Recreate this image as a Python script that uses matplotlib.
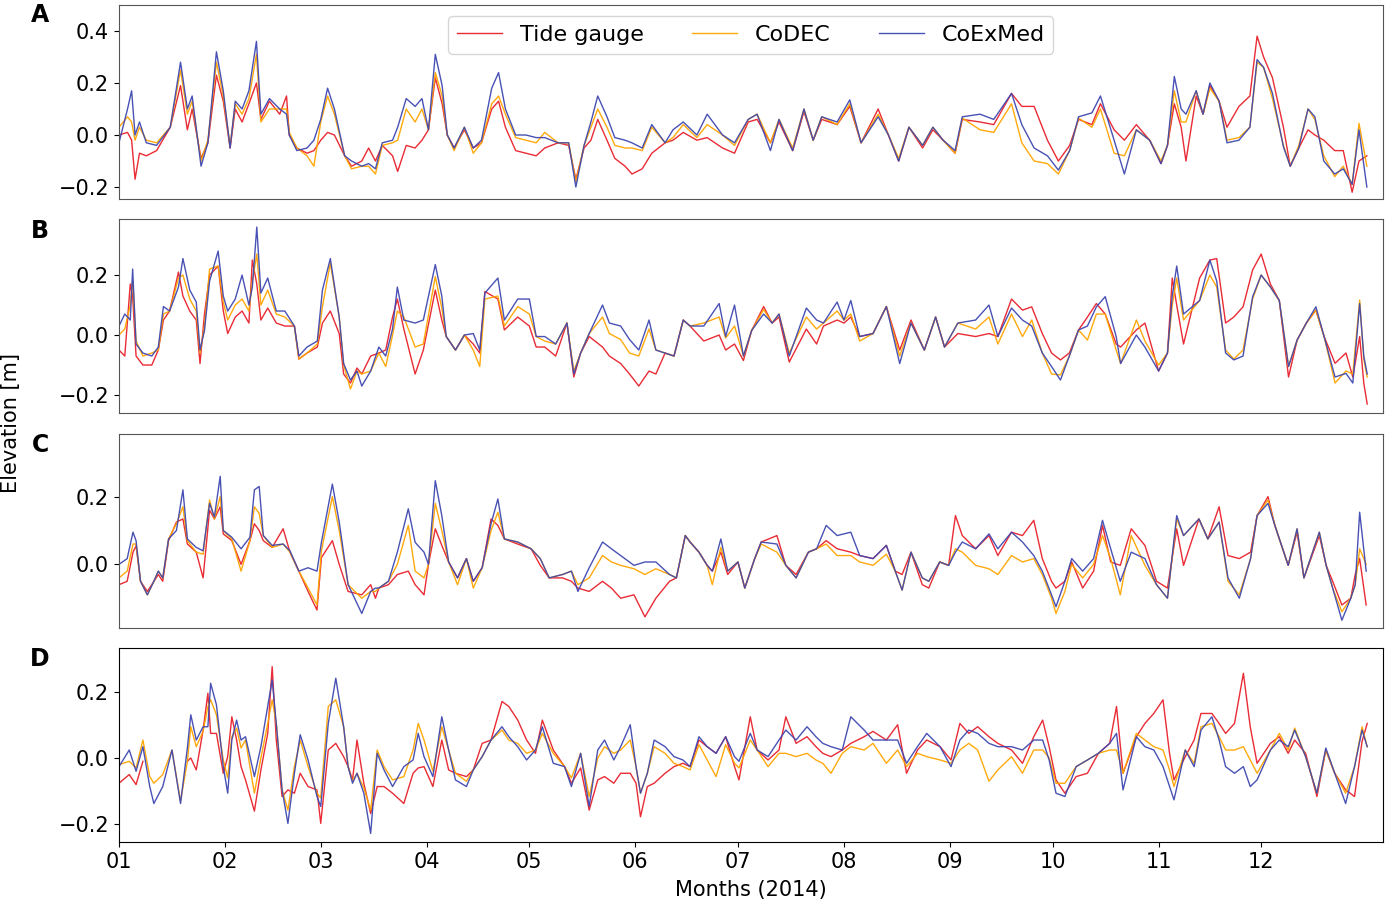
import numpy as np
import pandas as pd
import matplotlib
matplotlib.use("Agg")
import matplotlib.pyplot as plt
import matplotlib.dates as mdates
from matplotlib.ticker import MultipleLocator, FixedLocator

# ---- Panel A: day of 2014, sea level (m) ----
a_days = [0, 2.5, 3.7, 4.7, 6, 8, 11, 15, 18, 20,
          21.4, 24, 26, 28.5, 30.5, 32.5, 34, 36, 38, 40.2,
          41.5, 44, 47, 49, 49.8, 52, 55, 57, 59, 61,
          63, 66, 68, 71, 73, 75, 77, 80, 81.5, 84,
          86.6, 88.6, 90.5, 92.5, 94.5, 96, 98, 101, 103.6, 106,
          109, 111, 113, 116, 119, 122, 124.5, 128.4, 131.5, 133.6,
          136, 138, 140, 142.7, 145, 148, 150, 153, 155.8, 159.7,
          162, 165, 169, 172, 176.5, 180, 184, 186.6, 190.5, 193,
          197, 200.3, 203, 205.5, 210, 213.7, 217, 222, 225, 228,
          231, 235, 238, 241, 244.5, 246.6, 251.8, 255.8, 261, 264,
          267.6, 271.5, 274.7, 278, 280.6, 284.5, 287, 291, 294, 297.5,
          301.4, 304.7, 306.6, 308.6, 310.6, 312, 315, 317, 319, 321.7,
          324, 327.5, 330.7, 332.8, 334.7, 337.3, 340.5, 342.5, 345, 347.7,
          349.7, 352.3, 355.5, 358, 360.6, 362.6, 364.9]
a_tide = [0.00, 0.01, -0.02, -0.17, -0.07, -0.08, -0.06, 0.03, 0.19, 0.02,
          0.10, -0.09, -0.03, 0.23, 0.13, -0.05, 0.10, 0.05, 0.12, 0.20,
          0.06, 0.13, 0.08, 0.15, 0.00, -0.05, -0.07, -0.06, -0.02, 0.01,
          0.00, -0.08, -0.12, -0.10, -0.05, -0.10, -0.04, -0.08, -0.14, -0.04,
          -0.05, -0.02, 0.02, 0.22, 0.12, 0.00, -0.05, 0.02, -0.05, -0.03,
          0.10, 0.13, 0.03, -0.06, -0.07, -0.08, -0.05, -0.03, -0.04, -0.17,
          -0.05, -0.02, 0.06, -0.02, -0.09, -0.12, -0.15, -0.13, -0.07, -0.03,
          -0.02, 0.01, -0.02, -0.01, -0.05, -0.07, 0.05, 0.06, -0.03, 0.05,
          -0.06, 0.09, -0.02, 0.06, 0.04, 0.11, -0.03, 0.10, 0.00, -0.10,
          0.03, -0.05, 0.02, -0.02, -0.07, 0.06, 0.05, 0.04, 0.16, 0.11,
          0.11, -0.02, -0.10, -0.04, 0.06, 0.04, 0.12, 0.02, -0.02, 0.04,
          -0.02, -0.11, -0.04, 0.12, 0.03, -0.10, 0.15, 0.08, 0.19, 0.13,
          0.03, 0.11, 0.15, 0.38, 0.30, 0.22, 0.03, -0.12, -0.05, 0.02,
          0.00, -0.02, -0.06, -0.06, -0.22, -0.10, -0.08]
a_codec = [0.03, 0.07, 0.05, -0.02, 0.03, -0.02, -0.03, 0.03, 0.25, 0.08,
           0.13, -0.10, -0.02, 0.28, 0.15, -0.04, 0.12, 0.08, 0.14, 0.31,
           0.05, 0.10, 0.10, 0.10, 0.01, -0.05, -0.08, -0.12, 0.05, 0.15,
           0.08, -0.08, -0.13, -0.12, -0.12, -0.15, -0.04, -0.03, -0.02, 0.10,
           0.05, 0.10, 0.02, 0.24, 0.15, 0.00, -0.06, 0.03, -0.07, -0.03,
           0.12, 0.15, 0.08, -0.01, -0.02, -0.03, 0.01, -0.03, -0.03, -0.18,
           -0.04, 0.03, 0.10, 0.03, -0.04, -0.05, -0.05, -0.06, 0.03, -0.03,
           -0.01, 0.04, -0.01, 0.04, 0.00, -0.04, 0.06, 0.08, -0.03, 0.06,
           -0.05, 0.10, -0.02, 0.07, 0.04, 0.12, -0.03, 0.08, 0.00, -0.09,
           0.03, -0.04, 0.03, -0.02, -0.07, 0.065, 0.02, 0.01, 0.12, -0.03,
           -0.10, -0.11, -0.15, -0.06, 0.065, 0.03, 0.10, -0.07, -0.08, 0.02,
           -0.02, -0.10, -0.04, 0.17, 0.05, 0.05, 0.17, 0.08, 0.18, 0.13,
           -0.02, -0.01, 0.03, 0.28, 0.26, 0.14, -0.04, -0.12, -0.04, 0.10,
           0.06, -0.08, -0.16, -0.12, -0.19, 0.045, -0.12]
a_coexmed = [-0.03, 0.10, 0.17, 0.00, 0.05, -0.03, -0.04, 0.03, 0.28, 0.10,
             0.15, -0.12, -0.03, 0.32, 0.17, -0.05, 0.13, 0.10, 0.17, 0.36,
             0.08, 0.14, 0.10, 0.08, 0.00, -0.06, -0.05, -0.02, 0.06, 0.18,
             0.10, -0.08, -0.10, -0.12, -0.11, -0.13, -0.03, -0.02, 0.03, 0.14,
             0.11, 0.14, 0.02, 0.31, 0.19, 0.00, -0.05, 0.03, -0.05, -0.02,
             0.18, 0.24, 0.10, 0.00, 0.00, -0.01, -0.01, -0.03, -0.03, -0.20,
             -0.04, 0.05, 0.15, 0.07, -0.01, -0.02, -0.03, -0.05, 0.04, -0.03,
             0.02, 0.05, 0.00, 0.08, 0.00, -0.03, 0.06, 0.08, -0.06, 0.06,
             -0.06, 0.10, -0.02, 0.07, 0.05, 0.135, -0.03, 0.07, 0.00, -0.10,
             0.03, -0.04, 0.03, -0.02, -0.06, 0.07, 0.08, 0.06, 0.16, 0.04,
             -0.05, -0.08, -0.135, -0.06, 0.07, 0.085, 0.15, -0.02, -0.15, 0.02,
             -0.02, -0.11, -0.04, 0.225, 0.10, 0.08, 0.17, 0.08, 0.20, 0.13,
             -0.03, -0.02, 0.03, 0.29, 0.26, 0.16, -0.045, -0.12, -0.05, 0.10,
             0.07, -0.10, -0.15, -0.13, -0.19, 0.02, -0.20]

# ---- Panel B ----
b_days = [0, 1.7, 3.3, 4, 5, 7, 9.6, 11.5, 13, 14.8,
          17.4, 18.7, 20.7, 22.6, 23.7, 25, 26.5, 29, 30.5, 31.8,
          34, 36, 38, 39, 40.3, 41.5, 43.5, 46, 48.5, 51.3,
          52.6, 55, 58, 59.5, 61.8, 64.4, 65.7, 67.7, 69.6, 71,
          73.6, 76, 78, 80, 81.4, 83.3, 86.6, 89, 92.5, 94.4,
          95.7, 98.4, 101, 103.6, 105.5, 107, 110.8, 112.7, 116.6, 120,
          122, 124.5, 127.7, 131, 133, 135, 137.5, 141.4, 143.4, 146.7,
          149.3, 152, 155, 157, 159.7, 162.3, 165, 167, 171, 175.5,
          177.4, 180, 182.6, 185, 188.5, 191, 193, 196, 201, 204,
          206, 210, 212, 214, 216.6, 220.5, 224.4, 228.3, 231.6, 235.5,
          238.8, 241.4, 245.3, 250.5, 254.4, 257, 261, 264.2, 266.9, 270,
          272.7, 275.3, 277.9, 280.6, 283.2, 285.8, 288.4, 291.6, 292.9, 297.5,
          300, 304, 306.6, 308, 309.3, 311.3, 316, 319, 321, 323.6,
          326, 328.7, 331.5, 334, 336.7, 339.3, 342, 344.5, 347.2, 350,
          352.4, 355.6, 358.8, 360.8, 362.8, 364, 365]
b_tide = [-0.05, -0.07, 0.17, 0.13, -0.07, -0.10, -0.10, -0.05, 0.05, 0.08,
          0.21, 0.13, 0.08, 0.05, -0.095, 0.07, 0.20, 0.23, 0.08, 0.005,
          0.06, 0.08, 0.04, 0.25, 0.17, 0.05, 0.09, 0.04, 0.03, 0.03,
          -0.08, -0.06, -0.04, 0.04, 0.08, 0.005, -0.13, -0.16, -0.11, -0.13,
          -0.07, -0.06, -0.05, 0.06, 0.12, 0.02, -0.13, -0.05, 0.15, 0.05,
          -0.005, -0.05, 0.00, -0.03, -0.06, 0.145, 0.12, 0.017, 0.06, 0.03,
          -0.04, -0.04, -0.07, 0.04, -0.14, -0.06, -0.005, -0.04, -0.07, -0.095,
          -0.13, -0.17, -0.12, -0.13, -0.06, -0.07, 0.05, 0.03, -0.02, 0.00,
          -0.05, -0.03, -0.085, 0.015, 0.095, 0.04, 0.06, -0.09, 0.02, -0.03,
          0.03, 0.05, 0.04, 0.06, -0.005, 0.005, 0.095, -0.05, 0.05, -0.05,
          0.06, -0.04, 0.005, -0.005, 0.005, -0.005, 0.12, 0.083, 0.094, 0.005,
          -0.06, -0.083, -0.06, 0.017, 0.06, 0.105, 0.07, -0.03, -0.04, 0.017,
          0.04, -0.12, -0.06, 0.19, 0.10, -0.03, 0.19, 0.25, 0.255, 0.04,
          0.06, 0.094, 0.217, 0.27, 0.17, 0.115, -0.14, -0.017, 0.04, 0.083,
          -0.005, -0.094, -0.06, -0.14, -0.005, -0.16, -0.23]
b_codec = [0.00, 0.02, 0.10, 0.18, -0.02, -0.07, -0.06, -0.05, 0.07, 0.08,
           0.19, 0.20, 0.12, 0.08, -0.06, 0.03, 0.22, 0.23, 0.11, 0.05,
           0.10, 0.12, 0.08, 0.18, 0.27, 0.10, 0.15, 0.07, 0.06, 0.03,
           -0.08, -0.06, -0.03, 0.095, 0.24, 0.06, -0.10, -0.18, -0.12, -0.13,
           -0.12, -0.06, -0.105, 0.00, 0.08, 0.06, -0.04, -0.03, 0.195, 0.09,
           -0.005, -0.05, 0.00, -0.05, -0.105, 0.12, 0.13, 0.03, 0.095, 0.07,
           -0.005, -0.02, -0.03, 0.04, -0.12, -0.06, 0.005, 0.06, 0.005, -0.015,
           -0.06, -0.07, 0.02, -0.05, -0.06, -0.07, 0.05, 0.03, 0.04, 0.06,
           -0.01, 0.03, -0.07, 0.015, 0.085, 0.04, 0.07, -0.06, 0.06, 0.02,
           0.04, 0.08, 0.05, 0.07, -0.02, 0.005, 0.095, -0.07, 0.04, -0.05,
           0.06, -0.04, 0.04, 0.02, 0.06, -0.03, 0.07, -0.005, 0.05, -0.06,
           -0.13, -0.133, -0.07, 0.017, -0.017, 0.07, 0.07, -0.05, -0.095, 0.05,
           -0.02, -0.10, -0.06, 0.10, 0.19, 0.05, 0.115, 0.20, 0.16, -0.05,
           -0.08, -0.05, 0.12, 0.20, 0.16, 0.115, -0.105, -0.017, 0.04, 0.083,
           -0.005, -0.16, -0.12, -0.13, 0.117, -0.08, -0.14]
b_coexmed = [0.03, 0.07, 0.05, 0.22, -0.03, -0.06, -0.07, -0.04, 0.095, 0.08,
             0.16, 0.255, 0.15, 0.11, -0.05, 0.015, 0.18, 0.28, 0.13, 0.08,
             0.12, 0.20, 0.10, 0.16, 0.36, 0.14, 0.19, 0.08, 0.08, 0.03,
             -0.07, -0.04, -0.02, 0.15, 0.255, 0.06, -0.095, -0.15, -0.12, -0.17,
             -0.12, -0.04, -0.07, 0.02, 0.16, 0.05, 0.04, 0.05, 0.235, 0.13,
             -0.005, -0.05, 0.00, 0.005, -0.05, 0.14, 0.19, 0.05, 0.12, 0.12,
             -0.005, -0.005, -0.03, 0.04, -0.13, -0.06, 0.005, 0.10, 0.04, 0.03,
             -0.015, -0.05, 0.05, -0.05, -0.06, -0.07, 0.05, 0.03, 0.03, 0.105,
             -0.005, 0.10, -0.07, 0.015, 0.07, 0.04, 0.07, -0.07, 0.09, 0.05,
             0.04, 0.11, 0.05, 0.115, -0.005, 0.005, 0.095, -0.095, 0.04, -0.05,
             0.06, -0.04, 0.04, 0.05, 0.10, -0.005, 0.09, 0.05, 0.03, -0.06,
             -0.105, -0.15, -0.07, 0.017, 0.03, 0.094, 0.128, -0.005, -0.095, 0.00,
             -0.04, -0.12, -0.06, 0.13, 0.23, 0.07, 0.115, 0.25, 0.18, -0.06,
             -0.083, -0.07, 0.128, 0.20, 0.16, 0.115, -0.105, -0.017, 0.04, 0.094,
             -0.005, -0.14, -0.128, -0.16, 0.105, -0.07, -0.13]

# ---- Panel C ----
c_days = [0, 2.4, 4.1, 5, 6.3, 8.3, 10.2, 11.5, 12.8, 14.5,
          16.8, 18.7, 20, 22.6, 24.6, 26.5, 27.9, 29.6, 30.5, 33,
          35.7, 38.3, 39.6, 41, 42.2, 44.8, 48, 50, 52.6, 55.3,
          57.9, 59.2, 62.4, 64.4, 67, 71, 73.6, 75, 76, 78.8,
          81.4, 84.6, 86.6, 89.2, 90.5, 92.5, 94.4, 96.4, 99, 101.6,
          103.6, 106.2, 108.8, 110.8, 112.7, 116.6, 120.5, 123.2, 125.8, 129.7,
          132.3, 134.2, 137.5, 141.4, 144, 146.7, 150.6, 153.8, 157, 161,
          163, 165.6, 167, 169.6, 172, 173.5, 176, 178, 181, 183,
          185.9, 187.8, 192.4, 195, 198, 201.6, 204, 206.8, 210, 214,
          216.6, 220.5, 224.4, 227, 229, 231.6, 234.9, 236.8, 240, 242.6,
          244.6, 246.6, 250.5, 254.4, 257, 261, 264.2, 267.5, 270, 272.7,
          274, 276.6, 278.6, 281.8, 285, 287.6, 290, 292.8, 296, 300,
          303.4, 306.6, 309.3, 311.3, 315.8, 318.4, 321.7, 324.3, 327.6, 330.9,
          332.8, 336, 338, 340.6, 341.9, 344.5, 346.5, 351, 353, 354.9,
          357.6, 360.2, 361.5, 362.8, 364.7]
c_tide = [-0.06, -0.05, 0.036, 0.055, -0.05, -0.08, -0.05, -0.03, -0.05, 0.07,
          0.125, 0.134, 0.06, 0.036, -0.04, 0.16, 0.134, 0.17, 0.09, 0.07,
          0.0, 0.07, 0.12, 0.10, 0.07, 0.05, 0.105, 0.036, -0.02, -0.08,
          -0.135, 0.02, 0.07, 0.0, -0.08, -0.09, -0.06, -0.10, -0.07, -0.06,
          -0.03, -0.02, -0.06, -0.09, 0.0, 0.105, 0.056, 0.007, -0.04, 0.017,
          -0.05, -0.01, 0.134, 0.115, 0.075, 0.06, 0.046, -0.003, -0.04, -0.04,
          -0.05, -0.07, -0.08, -0.05, -0.07, -0.10, -0.09, -0.155, -0.10, -0.05,
          -0.04, 0.085, 0.066, 0.036, -0.003, -0.02, 0.036, -0.03, 0.007, -0.07,
          0.017, 0.066, 0.085, -0.003, -0.03, 0.036, 0.046, 0.07, 0.046, 0.036,
          0.026, 0.017, 0.056, -0.02, -0.03, 0.036, -0.06, -0.07, 0.007, -0.003,
          0.144, 0.085, 0.046, 0.085, 0.026, 0.095, 0.085, 0.13, 0.017, -0.05,
          -0.07, -0.05, 0.007, -0.07, -0.02, 0.115, 0.007, -0.003, 0.105, 0.056,
          -0.05, -0.07, 0.105, -0.003, 0.134, 0.075, 0.17, 0.026, 0.017, 0.036,
          0.144, 0.20, 0.115, 0.036, -0.003, 0.095, -0.04, 0.085, -0.003, -0.05,
          -0.12, -0.10, -0.03, 0.017, -0.12]
c_codec = [-0.04, -0.02, 0.06, 0.06, -0.05, -0.09, -0.05, -0.02, -0.04, 0.075,
           0.12, 0.17, 0.07, 0.036, 0.03, 0.19, 0.134, 0.20, 0.10, 0.075,
           -0.02, 0.07, 0.17, 0.15, 0.085, 0.05, 0.06, 0.036, -0.02, -0.07,
           -0.12, 0.04, 0.20, 0.10, -0.06, -0.10, -0.08, -0.08, -0.07, -0.05,
           0.0, 0.115, -0.02, -0.04, 0.0, 0.18, 0.10, 0.007, -0.06, 0.017,
           -0.07, -0.01, 0.10, 0.154, 0.075, 0.066, 0.046, 0.017, -0.04, -0.03,
           -0.02, -0.06, -0.04, 0.026, 0.007, -0.003, -0.013, -0.03, -0.013, -0.03,
           -0.04, 0.085, 0.066, 0.036, -0.003, -0.06, 0.05, -0.02, 0.007, -0.07,
           0.017, 0.06, 0.036, -0.003, -0.04, 0.036, 0.046, 0.06, 0.026, 0.026,
           0.007, -0.003, 0.03, -0.02, -0.076, 0.036, -0.04, -0.05, 0.007, -0.003,
           0.046, 0.036, -0.003, -0.013, -0.03, 0.026, 0.007, 0.017, -0.03, -0.10,
           -0.145, -0.08, 0.0, -0.04, 0.0, 0.085, 0.017, -0.09, 0.085, -0.003,
           -0.06, -0.10, 0.134, 0.085, 0.134, 0.075, 0.125, -0.05, -0.09, 0.017,
           0.144, 0.19, 0.115, 0.036, -0.003, 0.105, -0.04, 0.095, -0.003, -0.07,
           -0.14, -0.10, -0.06, 0.046, 0.0]
c_coexmed = [0.00, 0.017, 0.095, 0.07, -0.05, -0.09, -0.05, -0.02, -0.04, 0.075,
             0.10, 0.22, 0.075, 0.05, 0.04, 0.18, 0.14, 0.26, 0.10, 0.08,
             0.046, 0.08, 0.22, 0.23, 0.085, 0.056, 0.06, 0.04, -0.02, -0.01,
             -0.02, 0.065, 0.237, 0.125, -0.06, -0.145, -0.08, -0.07, -0.07, -0.05,
             0.036, 0.164, 0.065, 0.036, 0.0, 0.247, 0.144, 0.007, -0.04, 0.017,
             -0.05, -0.01, 0.12, 0.193, 0.075, 0.066, 0.046, 0.017, -0.04, -0.03,
             -0.02, -0.08, -0.01, 0.066, 0.046, 0.026, -0.003, 0.007, 0.007, -0.03,
             -0.04, 0.085, 0.066, 0.036, -0.003, -0.02, 0.075, -0.02, 0.007, -0.07,
             0.017, 0.066, 0.06, -0.003, -0.04, 0.036, 0.046, 0.115, 0.085, 0.095,
             0.026, 0.017, 0.056, -0.02, -0.076, 0.036, -0.04, -0.05, 0.007, -0.003,
             0.036, 0.066, 0.046, 0.09, 0.046, 0.095, 0.066, 0.026, -0.02, -0.09,
             -0.125, -0.05, 0.017, -0.02, 0.017, 0.13, 0.046, -0.05, 0.036, 0.017,
             -0.06, -0.10, 0.144, 0.085, 0.134, 0.075, 0.125, -0.04, -0.10, 0.017,
             0.144, 0.18, 0.115, 0.036, -0.003, 0.105, -0.04, 0.095, -0.003, -0.07,
             -0.165, -0.10, -0.06, 0.154, -0.02]

# ---- Panel D (tide gauge has a gap in mid January) ----
nan = np.nan
d_days = [0, 3, 5, 7, 9, 10.2, 12.8, 15.5, 18, 20,
          21, 22.6, 24.6, 26, 26.8, 28.5, 30.5, 31.8, 33, 34.4,
          35.7, 37, 39.6, 41.5, 43.5, 44.8, 46, 47.7, 49.4, 51.3,
          53, 55.3, 57.9, 59, 61.2, 63.4, 65.7, 67, 68.3, 69.6,
          71.6, 73.6, 75.5, 77.5, 80, 83.3, 86, 87.5, 89.2, 91.8,
          94.4, 96.4, 98.4, 101.6, 103.6, 106.2, 108.8, 112, 114, 116.6,
          119.2, 121.8, 123.8, 127, 130.3, 132.3, 135, 137.5, 140, 142,
          144.7, 146.7, 149.5, 151.2, 152.5, 154.5, 156.5, 159.7, 162.3, 164.9,
          167, 169.6, 172, 174.6, 177.4, 180, 181.3, 184.6, 186.6, 189.8,
          193, 195, 198, 201.2, 203.8, 205.8, 208.2, 211.5, 214, 217.9,
          220.5, 224.4, 227.7, 230.3, 233.5, 236.2, 240.1, 243.3, 245.9, 248.5,
          251.1, 254.4, 257, 261, 264.2, 267.5, 270.1, 272, 274, 276.6,
          279.9, 283.2, 286.4, 289.7, 291.7, 293.6, 297.5, 300, 302.6, 305.3,
          307.2, 308.5, 311.8, 314.4, 316.4, 319.6, 321.7, 323.6, 326.2, 328.8,
          330.8, 332.8, 336.7, 339.3, 341.9, 343.8, 347, 350.3, 352.9, 355.5,
          358.7, 361.3, 363.5, 365]
d_tide = [-0.076, -0.05, -0.08, -0.01, nan, nan, nan, nan, nan, -0.01,
          0.0, -0.036, 0.084, 0.195, 0.074, 0.074, -0.046, 0.004, 0.124, 0.054,
          -0.026, -0.066, -0.16, -0.036, 0.074, 0.275, 0.054, -0.116, -0.096, -0.106,
          -0.046, -0.086, -0.096, -0.197, 0.024, 0.044, 0.004, -0.026, -0.066, 0.054,
          -0.076, -0.167, -0.086, -0.086, -0.106, -0.137, -0.046, -0.03, -0.026, -0.086,
          0.054, -0.036, -0.046, -0.056, -0.036, 0.044, 0.054, 0.17, 0.155, 0.114,
          0.054, 0.014, 0.114, 0.024, -0.026, -0.076, -0.03, -0.157, -0.066, -0.056,
          -0.076, -0.046, -0.046, -0.076, -0.177, -0.086, -0.076, -0.046, -0.026, -0.016,
          -0.026, 0.054, 0.034, 0.014, 0.064, -0.026, -0.066, 0.124, 0.024, -0.006,
          0.024, 0.124, 0.044, 0.064, 0.034, 0.014, 0.004, 0.024, 0.044, 0.064,
          0.08, 0.054, 0.1, -0.046, 0.024, 0.054, 0.034, -0.006, 0.104, 0.074,
          0.094, 0.064, 0.044, 0.024, -0.016, 0.064, 0.114, 0.034, -0.066, -0.106,
          -0.056, -0.046, 0.014, 0.044, 0.155, -0.046, 0.064, 0.104, 0.134, 0.175,
          0.014, -0.066, 0.004, 0.054, 0.134, 0.134, 0.104, 0.074, 0.104, 0.255,
          0.094, -0.016, 0.044, 0.064, 0.014, 0.054, 0.014, -0.116, 0.024, -0.046,
          -0.096, -0.116, 0.05, 0.104]
d_codec = [-0.02, -0.01, -0.03, 0.054, -0.056, -0.076, -0.05, 0.024, -0.13, -0.01,
           0.094, 0.034, 0.08, 0.155, 0.175, 0.13, -0.006, -0.06, 0.064, 0.09,
           0.03, 0.054, -0.106, 0.0, 0.104, 0.175, 0.104, -0.096, -0.157, -0.026,
           0.054, -0.026, -0.106, -0.12, 0.155, 0.175, 0.094, -0.026, -0.07, -0.046,
           -0.09, -0.157, 0.024, -0.026, -0.066, -0.056, 0.024, 0.104, 0.054, -0.04,
           0.094, 0.024, -0.046, -0.07, -0.036, 0.004, 0.054, 0.084, 0.054, 0.044,
           0.014, 0.024, 0.074, 0.014, -0.026, -0.06, 0.014, -0.116, 0.0, 0.034,
           0.014, 0.024, 0.054, -0.026, -0.106, -0.046, 0.034, 0.014, -0.016, -0.026,
           -0.036, 0.04, -0.006, -0.056, 0.04, -0.016, -0.03, 0.054, 0.024, -0.026,
           0.014, 0.014, 0.004, 0.014, -0.006, -0.016, -0.046, 0.014, 0.034, 0.024,
           0.044, -0.016, 0.024, -0.026, 0.014, 0.004, -0.006, -0.016, 0.024, 0.044,
           0.024, -0.07, -0.036, 0.004, -0.046, 0.024, 0.024, 0.0, -0.076, -0.076,
           -0.026, -0.006, 0.014, 0.024, 0.024, -0.046, 0.074, 0.054, 0.034, 0.024,
           -0.036, -0.086, 0.024, -0.016, 0.094, 0.104, 0.064, 0.024, 0.024, 0.034,
           -0.006, -0.046, 0.024, 0.074, 0.024, 0.09, 0.004, -0.106, 0.024, -0.046,
           -0.106, -0.026, 0.094, 0.034]
d_coexmed = [-0.026, 0.024, -0.04, 0.034, -0.086, -0.137, -0.086, 0.024, -0.137, 0.03,
             0.13, 0.054, 0.094, 0.094, 0.225, 0.16, -0.026, -0.106, 0.054, 0.114,
             0.054, 0.064, -0.056, 0.034, 0.155, 0.235, 0.104, -0.096, -0.197, -0.046,
             0.07, -0.006, -0.116, -0.146, 0.104, 0.24, 0.094, -0.026, -0.076, -0.046,
             -0.106, -0.227, 0.014, -0.036, -0.086, -0.026, -0.006, 0.074, 0.004, -0.056,
             0.124, 0.024, -0.066, -0.086, -0.036, 0.004, 0.054, 0.094, 0.064, 0.034,
             -0.006, 0.024, 0.094, -0.016, -0.026, -0.086, 0.014, -0.146, 0.024, 0.054,
             -0.006, 0.034, 0.1, -0.026, -0.106, -0.046, 0.054, 0.034, 0.004, -0.006,
             -0.026, 0.064, 0.034, 0.014, 0.064, 0.004, -0.01, 0.074, 0.024, 0.004,
             0.054, 0.084, 0.054, 0.094, 0.064, 0.044, 0.034, 0.024, 0.124, 0.084,
             0.054, 0.054, 0.054, -0.016, 0.034, 0.074, 0.034, -0.026, 0.054, 0.084,
             0.074, 0.044, 0.034, 0.034, 0.024, 0.054, 0.054, -0.006, -0.106, -0.116,
             -0.026, -0.006, 0.014, 0.044, 0.074, -0.096, 0.064, 0.034, 0.024, -0.026,
             -0.086, -0.126, 0.024, -0.026, 0.084, 0.124, 0.054, -0.026, -0.046, -0.026,
             -0.086, -0.066, 0.024, 0.054, 0.034, 0.084, 0.004, -0.106, 0.03, -0.046,
             -0.137, -0.026, 0.084, 0.034]

labels = ["Tide gauge", "CoDEC", "CoExMed"]
colors = ["#e8202a", "#ffa500", "#3f48b0"]
letters = ["A", "B", "C", "D"]

START = pd.Timestamp("2014-01-01")


def to_dates(days):
    return START + pd.to_timedelta(np.asarray(days, dtype=float), unit="D")


panels = [
    (a_days, [a_tide, a_codec, a_coexmed], (-0.246, 0.50)),
    (b_days, [b_tide, b_codec, b_coexmed], (-0.26, 0.387)),
    (c_days, [c_tide, c_codec, c_coexmed], (-0.188, 0.385)),
    (d_days, [d_tide, d_codec, d_coexmed], (-0.253, 0.331)),
]

# month ticks only for 2014 (01 ... 12)
month_starts = pd.date_range("2014-01-01", periods=12, freq="MS")

fig = plt.figure(figsize=(13.85, 9.0), dpi=100)
left, width, height = 0.0859, 0.9126, 0.2156
bottoms = [0.7789, 0.5411, 0.3022, 0.0644]
letter_y = [0.983, 0.743, 0.506, 0.268]

axes = []
for i, (days, series, ylim) in enumerate(panels):
    ax = fig.add_axes([left, bottoms[i], width, height])
    dates = to_dates(days)
    for vals, lab, col in zip(series, labels, colors):
        ax.plot(dates, np.asarray(vals, dtype=float), color=col, lw=1.0,
                alpha=0.95, label=lab)
    ax.set_ylim(*ylim)
    ax.set_xlim(START, START + pd.Timedelta(days=369.6))
    ax.yaxis.set_major_locator(MultipleLocator(0.2))
    ax.tick_params(axis="y", labelsize=15)
    ax.xaxis.set_major_locator(FixedLocator(mdates.date2num(month_starts)))
    ax.xaxis.set_major_formatter(mdates.DateFormatter("%m"))
    if i < 3:
        ax.tick_params(axis="x", bottom=False, labelbottom=False)
        for sp in ax.spines.values():
            sp.set_color("#555555")
    else:
        ax.tick_params(axis="x", labelsize=15)
        ax.set_xlabel("Months (2014)", fontsize=15, labelpad=6)
    fig.text(0.029, letter_y[i], letters[i], fontsize=17, fontweight="bold",
             ha="center", va="center")
    axes.append(ax)

axes[0].legend(loc="upper center", ncol=3, fontsize=16, handlelength=2.0,
               columnspacing=2.2)

fig.text(0.008, 0.53, "Elevation [m]", rotation=90, fontsize=15,
         ha="center", va="center")

fig.savefig("out.png", dpi=100)
